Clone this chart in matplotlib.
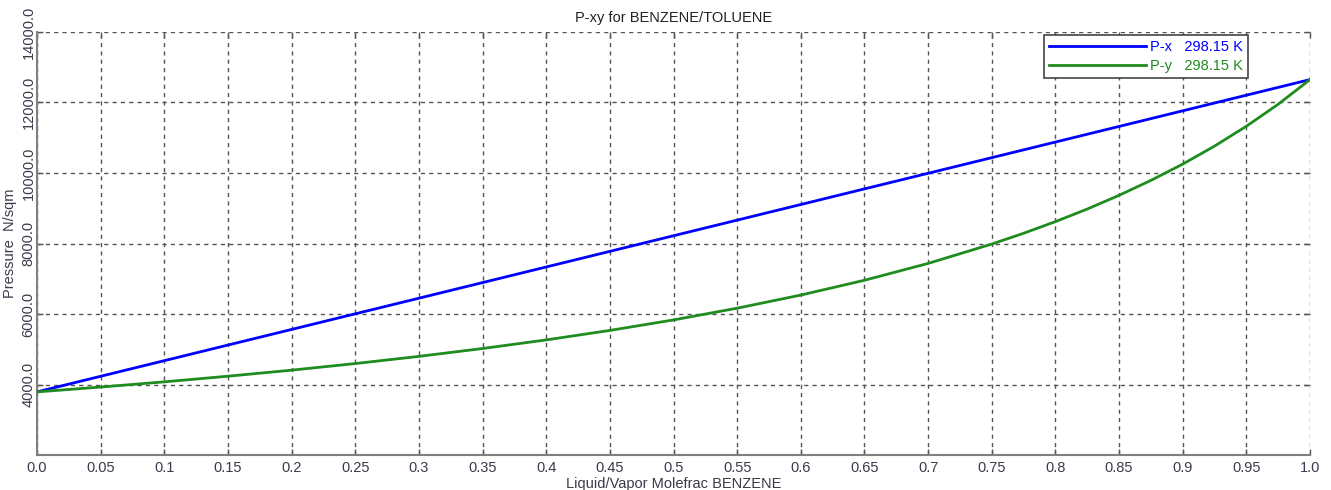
import matplotlib
matplotlib.use("Agg")
import matplotlib.pyplot as plt

plt.rcParams['font.family'] = ['Liberation Sans', 'DejaVu Sans']

# Mole fraction of benzene in the liquid
liq_frac = [0.0, 0.05, 0.1, 0.15, 0.2, 0.25, 0.3, 0.35, 0.4, 0.45, 0.5,
            0.55, 0.6, 0.65, 0.7, 0.75, 0.8, 0.85, 0.9, 0.95, 1.0]

# Bubble-point pressure (N/sqm) vs liquid mole fraction
p_x = [3790, 4233, 4676, 5119, 5562, 6005, 6448, 6891, 7334, 7777, 8220,
       8663, 9106, 9549, 9992, 10435, 10878, 11321, 11764, 12207, 12650]

# Mole fraction of benzene in the vapor
vap_frac = [0.0, 0.05, 0.1, 0.15, 0.2, 0.25, 0.3, 0.35, 0.4, 0.45, 0.5,
            0.55, 0.6, 0.65, 0.7, 0.75, 0.775, 0.8, 0.825, 0.85, 0.875,
            0.9, 0.925, 0.95, 0.975, 1.0]

# Dew-point pressure (N/sqm) vs vapor mole fraction
p_y = [3790, 3928, 4075, 4235, 4407, 4594, 4798, 5021, 5265, 5534, 5832,
       6165, 6537, 6957, 7435, 7984, 8290, 8620, 8977, 9366, 9790,
       10252, 10763, 11326, 11950, 12650]

x_ticks = [0.0, 0.05, 0.1, 0.15, 0.2, 0.25, 0.3, 0.35, 0.4, 0.45, 0.5,
           0.55, 0.6, 0.65, 0.7, 0.75, 0.8, 0.85, 0.9, 0.95, 1.0]
x_tick_labels = ["0.0", "0.05", "0.1", "0.15", "0.2", "0.25", "0.3", "0.35",
                 "0.4", "0.45", "0.5", "0.55", "0.6", "0.65", "0.7", "0.75",
                 "0.8", "0.85", "0.9", "0.95", "1.0"]
y_ticks = [4000, 6000, 8000, 10000, 12000, 14000]
y_tick_labels = ["4000.0", "6000.0", "8000.0", "10000.0", "12000.0", "14000.0"]

label_px = "P-x   298.15 K"
label_py = "P-y   298.15 K"

fig = plt.figure(figsize=(13.31, 4.90), dpi=100)
ax = fig.add_axes([37 / 1331, 35 / 490, 1273 / 1331, 423 / 490])

ax.plot(liq_frac, p_x, color='#0000ff', lw=2.0, label=label_px, zorder=3)
ax.plot(vap_frac, p_y, color='#1e8c1e', lw=2.0, label=label_py, zorder=3)

ax.set_xlim(0.0, 1.0)
ax.set_ylim(2000, 14000)
ax.set_xticks(x_ticks)
ax.set_xticklabels(x_tick_labels)
ax.set_yticks(y_ticks)
ax.set_yticklabels(y_tick_labels, rotation=90, va='center')

text_col = '#3a3a4a'
ax.tick_params(axis='both', direction='in', length=4, width=1, color='#555555',
               labelsize=10.5, labelcolor=text_col, top=True, right=True)
ax.tick_params(axis='x', pad=4)
ax.tick_params(axis='y', pad=1)

ax.grid(True, color='#555555', lw=1.0, linestyle=(0, (3, 3)))
for side in ('top', 'right'):
    ax.spines[side].set_visible(False)
for side in ('left', 'bottom'):
    ax.spines[side].set_color('#808080')
    ax.spines[side].set_linewidth(1.5)

ax.set_title("P-xy for BENZENE/TOLUENE", fontsize=10.5, color='#222222', pad=7)
ax.set_xlabel("Liquid/Vapor Molefrac BENZENE", fontsize=10.5, color=text_col,
              labelpad=2)
ax.set_ylabel("Pressure  N/sqm", fontsize=10.5, color=text_col, labelpad=3)

leg = ax.legend(loc='upper right', bbox_to_anchor=(0.9513, 0.993),
                borderaxespad=0.0, handlelength=6.6, handletextpad=0.3,
                labelspacing=0.35, borderpad=0.35, fontsize=10.5,
                labelcolor='linecolor', fancybox=False, framealpha=1.0,
                edgecolor='#444444')
leg.get_frame().set_linewidth(1.2)

fig.savefig("out.png", dpi=100)
